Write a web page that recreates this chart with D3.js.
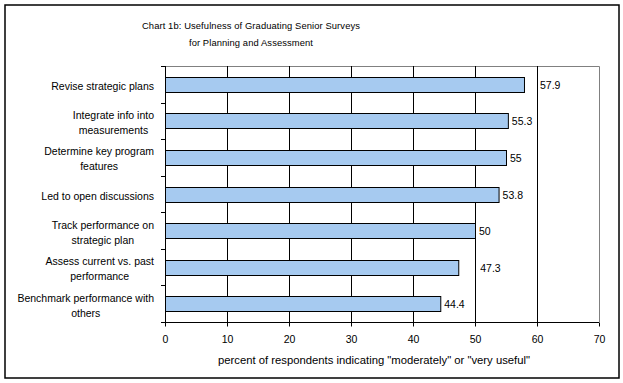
<!DOCTYPE html>
<html><head><meta charset="utf-8">
<script src="https://cdn.jsdelivr.net/npm/d3@7"></script>
<style>
html,body{margin:0;padding:0;background:#fff;}
svg text{font-family:"Liberation Sans",Arial,sans-serif;fill:#000;}
</style></head>
<body><svg id="chart" width="623" height="383"></svg>
<script>
const titleLines = ["Chart 1b: Usefulness of Graduating Senior Surveys", "for Planning and Assessment"];
const categories = [
  ["Revise strategic plans"],
  ["Integrate info into", "measurements"],
  ["Determine key program", "features"],
  ["Led to open discussions"],
  ["Track performance on", "strategic plan"],
  ["Assess current vs. past", "performance"],
  ["Benchmark performance with", "others"]
];
const values = [57.9, 55.3, 55, 53.8, 50, 47.3, 44.4];
const valueLabels = ["57.9", "55.3", "55", "53.8", "50", "47.3", "44.4"];
const xTicks = [0, 10, 20, 30, 40, 50, 60, 70];
const xAxisTitle = "percent of respondents indicating \"moderately\" or \"very useful\"";
// layout-only nudges for value labels (px), as placed in the original
const labelNudge = [12, 0, 0, 0, 0, 18, 0];

const svg = d3.select("#chart");
const L = 165, R = 599, T = 66, B = 322;
const x = d3.scaleLinear().domain([0, 70]).range([L, R]);
const y = d3.scaleBand().domain(d3.range(values.length)).range([T, B]).paddingInner(0.59).paddingOuter(0.295);
const band = d3.scaleBand().domain(d3.range(values.length)).range([T, B]);

// outer frame
svg.append("rect").attr("x", 5).attr("y", 5).attr("width", 614).attr("height", 373)
  .attr("fill", "none").attr("stroke", "#000").attr("stroke-width", 1.5);

// title
svg.append("g").selectAll("text").data(titleLines).join("text")
  .attr("x", 251).attr("y", (d, i) => 29 + i * 17)
  .attr("text-anchor", "middle").attr("font-size", "9.4px")
  .attr("letter-spacing", "0.1px")
  .text(d => d);

// plot border (gray top & right)
svg.append("path").attr("d", `M${L},${T + 0.5}H${R + 0.5}V${B}`)
  .attr("fill", "none").attr("stroke", "#808080").attr("stroke-width", 1);

// gridlines
svg.append("g").selectAll("line").data(xTicks.filter(d => d > 0 && d < 70)).join("line")
  .attr("x1", d => Math.round(x(d)) + 0.5).attr("x2", d => Math.round(x(d)) + 0.5)
  .attr("y1", T).attr("y2", B).attr("stroke", "#000").attr("stroke-width", 1);

// bars
svg.append("g").selectAll("rect").data(values).join("rect")
  .attr("x", x(0) + 0.5).attr("y", (d, i) => Math.round(y(i)) + 0.5)
  .attr("width", d => x(d) - x(0)).attr("height", Math.round(y.bandwidth()))
  .attr("fill", "#a6caf0").attr("stroke", "#000").attr("stroke-width", 1);

// value labels
svg.append("g").selectAll("text").data(values).join("text")
  .attr("x", (d, i) => x(d) + 4 + labelNudge[i])
  .attr("y", (d, i) => y(i) + y.bandwidth() / 2 + 4.5)
  .attr("font-size", "10.5px").text((d, i) => valueLabels[i]);

// x axis
const xAxis = d3.axisBottom(x).tickValues(xTicks).tickSize(4).tickPadding(9).tickFormat(d3.format("d"));
const gx = svg.append("g").attr("transform", `translate(0,${B + 0.5})`).call(xAxis);
gx.select(".domain").attr("stroke", "#000").attr("d", `M${L},0H${R}`);
gx.selectAll(".tick line").attr("stroke", "#000");
gx.selectAll(".tick text").attr("font-size", "10.5px").attr("font-family", null);

// y axis line + ticks at band boundaries
svg.append("line").attr("x1", L + 0.5).attr("x2", L + 0.5).attr("y1", T).attr("y2", B + 1).attr("stroke", "#000");
svg.append("g").selectAll("line").data(d3.range(values.length + 1)).join("line")
  .attr("x1", L - 4).attr("x2", L)
  .attr("y1", i => Math.round(T + i * band.bandwidth()) + 0.5)
  .attr("y2", i => Math.round(T + i * band.bandwidth()) + 0.5)
  .attr("stroke", "#000");

// category labels: right-aligned block, lines centered
const gl = svg.append("g");
categories.forEach((lines, i) => {
  const cy = band(i) + band.bandwidth() / 2 + 2;
  const texts = lines.map((t, j) => gl.append("text").attr("font-size", "10.5px")
    .attr("text-anchor", "middle").text(t));
  const w = d3.max(texts, t => t.node().getComputedTextLength());
  const cx = 154 - w / 2;
  const n = lines.length;
  texts.forEach((t, j) => t.attr("x", cx).attr("y", cy + (j - (n - 1) / 2) * 15 + 3.5));
});

// x axis title
svg.append("text").attr("x", 374).attr("y", 364).attr("text-anchor", "middle")
  .attr("font-size", "10px").attr("textLength", 312).attr("lengthAdjust", "spacingAndGlyphs")
  .text(xAxisTitle);
</script></body></html>
